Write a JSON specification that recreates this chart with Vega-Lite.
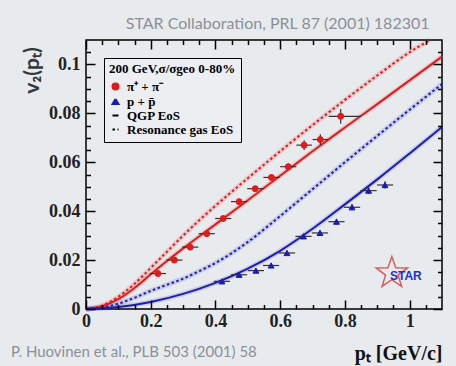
{
  "$schema": "https://vega.github.io/schema/vega-lite/v6.json",
  "autosize": {"type": "none"},
  "padding": {"left": 86, "top": 40, "right": 14, "bottom": 57},
  "width": 356,
  "height": 269,
  "background": "#e8ebee",
  "title": {"text": "P. Huovinen et al., PLB 503 (2001) 58", "orient": "bottom", "anchor": "start", "frame": "group", "dx": -75, "dy": -22, "font": "Lato", "fontSize": 15, "fontWeight": "normal", "color": "#8a9096"},
  "datasets": {
    "curves": [
      {"particle": "pi", "entry": "QGP EoS", "pt": 0, "v2": 0},
      {"particle": "pi", "entry": "QGP EoS", "pt": 0.05, "v2": 0.0011},
      {"particle": "pi", "entry": "QGP EoS", "pt": 0.1, "v2": 0.0040},
      {"particle": "pi", "entry": "QGP EoS", "pt": 0.15, "v2": 0.0086},
      {"particle": "pi", "entry": "QGP EoS", "pt": 0.2, "v2": 0.0142},
      {"particle": "pi", "entry": "QGP EoS", "pt": 0.25, "v2": 0.0196},
      {"particle": "pi", "entry": "QGP EoS", "pt": 0.3, "v2": 0.0248},
      {"particle": "pi", "entry": "QGP EoS", "pt": 0.4, "v2": 0.0346},
      {"particle": "pi", "entry": "QGP EoS", "pt": 0.5, "v2": 0.0445},
      {"particle": "pi", "entry": "QGP EoS", "pt": 0.6, "v2": 0.0545},
      {"particle": "pi", "entry": "QGP EoS", "pt": 0.7, "v2": 0.0645},
      {"particle": "pi", "entry": "QGP EoS", "pt": 0.8, "v2": 0.0742},
      {"particle": "pi", "entry": "QGP EoS", "pt": 0.9, "v2": 0.0838},
      {"particle": "pi", "entry": "QGP EoS", "pt": 1.0, "v2": 0.0935},
      {"particle": "pi", "entry": "QGP EoS", "pt": 1.1, "v2": 0.1032},
      {"particle": "pi", "entry": "Resonance gas EoS", "pt": 0, "v2": 0},
      {"particle": "pi", "entry": "Resonance gas EoS", "pt": 0.05, "v2": 0.0014},
      {"particle": "pi", "entry": "Resonance gas EoS", "pt": 0.1, "v2": 0.0050},
      {"particle": "pi", "entry": "Resonance gas EoS", "pt": 0.15, "v2": 0.0103},
      {"particle": "pi", "entry": "Resonance gas EoS", "pt": 0.2, "v2": 0.0168},
      {"particle": "pi", "entry": "Resonance gas EoS", "pt": 0.25, "v2": 0.0234},
      {"particle": "pi", "entry": "Resonance gas EoS", "pt": 0.3, "v2": 0.0300},
      {"particle": "pi", "entry": "Resonance gas EoS", "pt": 0.35, "v2": 0.0363},
      {"particle": "pi", "entry": "Resonance gas EoS", "pt": 0.4, "v2": 0.0422},
      {"particle": "pi", "entry": "Resonance gas EoS", "pt": 0.5, "v2": 0.0535},
      {"particle": "pi", "entry": "Resonance gas EoS", "pt": 0.6, "v2": 0.0645},
      {"particle": "pi", "entry": "Resonance gas EoS", "pt": 0.7, "v2": 0.0752},
      {"particle": "pi", "entry": "Resonance gas EoS", "pt": 0.8, "v2": 0.0855},
      {"particle": "pi", "entry": "Resonance gas EoS", "pt": 0.9, "v2": 0.0955},
      {"particle": "pi", "entry": "Resonance gas EoS", "pt": 1.0, "v2": 0.1050},
      {"particle": "pi", "entry": "Resonance gas EoS", "pt": 1.063, "v2": 0.1100},
      {"particle": "p", "entry": "QGP EoS", "pt": 0, "v2": 0},
      {"particle": "p", "entry": "QGP EoS", "pt": 0.1, "v2": 0.0008},
      {"particle": "p", "entry": "QGP EoS", "pt": 0.2, "v2": 0.0029},
      {"particle": "p", "entry": "QGP EoS", "pt": 0.3, "v2": 0.0062},
      {"particle": "p", "entry": "QGP EoS", "pt": 0.4, "v2": 0.0107},
      {"particle": "p", "entry": "QGP EoS", "pt": 0.5, "v2": 0.0165},
      {"particle": "p", "entry": "QGP EoS", "pt": 0.6, "v2": 0.0238},
      {"particle": "p", "entry": "QGP EoS", "pt": 0.7, "v2": 0.0328},
      {"particle": "p", "entry": "QGP EoS", "pt": 0.8, "v2": 0.0428},
      {"particle": "p", "entry": "QGP EoS", "pt": 0.9, "v2": 0.0530},
      {"particle": "p", "entry": "QGP EoS", "pt": 1.0, "v2": 0.0636},
      {"particle": "p", "entry": "QGP EoS", "pt": 1.1, "v2": 0.0744},
      {"particle": "p", "entry": "Resonance gas EoS", "pt": 0, "v2": 0},
      {"particle": "p", "entry": "Resonance gas EoS", "pt": 0.05, "v2": 0.0006},
      {"particle": "p", "entry": "Resonance gas EoS", "pt": 0.1, "v2": 0.0022},
      {"particle": "p", "entry": "Resonance gas EoS", "pt": 0.15, "v2": 0.0046},
      {"particle": "p", "entry": "Resonance gas EoS", "pt": 0.2, "v2": 0.0074},
      {"particle": "p", "entry": "Resonance gas EoS", "pt": 0.25, "v2": 0.0099},
      {"particle": "p", "entry": "Resonance gas EoS", "pt": 0.3, "v2": 0.0124},
      {"particle": "p", "entry": "Resonance gas EoS", "pt": 0.35, "v2": 0.0155},
      {"particle": "p", "entry": "Resonance gas EoS", "pt": 0.4, "v2": 0.0188},
      {"particle": "p", "entry": "Resonance gas EoS", "pt": 0.5, "v2": 0.0274},
      {"particle": "p", "entry": "Resonance gas EoS", "pt": 0.6, "v2": 0.0380},
      {"particle": "p", "entry": "Resonance gas EoS", "pt": 0.7, "v2": 0.0490},
      {"particle": "p", "entry": "Resonance gas EoS", "pt": 0.8, "v2": 0.0600},
      {"particle": "p", "entry": "Resonance gas EoS", "pt": 0.9, "v2": 0.0708},
      {"particle": "p", "entry": "Resonance gas EoS", "pt": 1.0, "v2": 0.0815},
      {"particle": "p", "entry": "Resonance gas EoS", "pt": 1.1, "v2": 0.0920}
    ],
    "points": [
      {"entry": "π⁺ + π⁻", "pt": 0.222, "v2": 0.0145, "ptlo": 0.197, "pthi": 0.247, "v2lo": 0.0137, "v2hi": 0.0153},
      {"entry": "π⁺ + π⁻", "pt": 0.273, "v2": 0.0200, "ptlo": 0.248, "pthi": 0.298, "v2lo": 0.0192, "v2hi": 0.0208},
      {"entry": "π⁺ + π⁻", "pt": 0.322, "v2": 0.0253, "ptlo": 0.297, "pthi": 0.347, "v2lo": 0.0245, "v2hi": 0.0261},
      {"entry": "π⁺ + π⁻", "pt": 0.373, "v2": 0.0308, "ptlo": 0.348, "pthi": 0.398, "v2lo": 0.0300, "v2hi": 0.0316},
      {"entry": "π⁺ + π⁻", "pt": 0.424, "v2": 0.0370, "ptlo": 0.399, "pthi": 0.449, "v2lo": 0.0361, "v2hi": 0.0379},
      {"entry": "π⁺ + π⁻", "pt": 0.473, "v2": 0.0439, "ptlo": 0.448, "pthi": 0.498, "v2lo": 0.0430, "v2hi": 0.0448},
      {"entry": "π⁺ + π⁻", "pt": 0.523, "v2": 0.0492, "ptlo": 0.498, "pthi": 0.548, "v2lo": 0.0482, "v2hi": 0.0502},
      {"entry": "π⁺ + π⁻", "pt": 0.573, "v2": 0.0538, "ptlo": 0.548, "pthi": 0.598, "v2lo": 0.0527, "v2hi": 0.0549},
      {"entry": "π⁺ + π⁻", "pt": 0.625, "v2": 0.0582, "ptlo": 0.600, "pthi": 0.650, "v2lo": 0.0570, "v2hi": 0.0594},
      {"entry": "π⁺ + π⁻", "pt": 0.674, "v2": 0.0670, "ptlo": 0.650, "pthi": 0.698, "v2lo": 0.0650, "v2hi": 0.0690},
      {"entry": "π⁺ + π⁻", "pt": 0.724, "v2": 0.0693, "ptlo": 0.700, "pthi": 0.748, "v2lo": 0.0671, "v2hi": 0.0715},
      {"entry": "π⁺ + π⁻", "pt": 0.787, "v2": 0.0788, "ptlo": 0.750, "pthi": 0.850, "v2lo": 0.0758, "v2hi": 0.0818},
      {"entry": "p + p̄", "pt": 0.420, "v2": 0.0113, "ptlo": 0.395, "pthi": 0.445, "v2lo": 0.0105, "v2hi": 0.0121},
      {"entry": "p + p̄", "pt": 0.473, "v2": 0.0140, "ptlo": 0.448, "pthi": 0.498, "v2lo": 0.0132, "v2hi": 0.0148},
      {"entry": "p + p̄", "pt": 0.525, "v2": 0.0157, "ptlo": 0.500, "pthi": 0.550, "v2lo": 0.0148, "v2hi": 0.0166},
      {"entry": "p + p̄", "pt": 0.572, "v2": 0.0178, "ptlo": 0.547, "pthi": 0.597, "v2lo": 0.0169, "v2hi": 0.0187},
      {"entry": "p + p̄", "pt": 0.621, "v2": 0.0229, "ptlo": 0.596, "pthi": 0.646, "v2lo": 0.0219, "v2hi": 0.0239},
      {"entry": "p + p̄", "pt": 0.672, "v2": 0.0297, "ptlo": 0.647, "pthi": 0.697, "v2lo": 0.0286, "v2hi": 0.0308},
      {"entry": "p + p̄", "pt": 0.723, "v2": 0.0311, "ptlo": 0.698, "pthi": 0.748, "v2lo": 0.0300, "v2hi": 0.0322},
      {"entry": "p + p̄", "pt": 0.774, "v2": 0.0357, "ptlo": 0.749, "pthi": 0.799, "v2lo": 0.0345, "v2hi": 0.0369},
      {"entry": "p + p̄", "pt": 0.822, "v2": 0.0416, "ptlo": 0.797, "pthi": 0.847, "v2lo": 0.0403, "v2hi": 0.0429},
      {"entry": "p + p̄", "pt": 0.873, "v2": 0.0484, "ptlo": 0.848, "pthi": 0.898, "v2lo": 0.0470, "v2hi": 0.0498},
      {"entry": "p + p̄", "pt": 0.924, "v2": 0.0507, "ptlo": 0.899, "pthi": 0.949, "v2lo": 0.0492, "v2hi": 0.0522}
    ],
    "logo": [
      {"pt": 0.945, "v2": 0.0147, "label": "STAR"}
    ]
  },
  "layer": [
    {
      "data": {"name": "curves"},
      "mark": {"type": "line", "strokeWidth": 5, "opacity": 0.15, "interpolate": "monotone"},
      "encoding": {
        "x": {"field": "pt", "type": "quantitative", "scale": {"domain": [0, 1.1], "nice": false, "zero": false},
          "axis": {
            "orient": "bottom", "offset": -9, "zindex": 2,
            "values": [0, 0.2, 0.4, 0.6, 0.8, 1.0],
            "format": "~g",
            "tickSize": 9,
            "labelPadding": 3,
            "labelFont": "Liberation Serif", "labelFontWeight": "bold", "labelFontSize": 18, "labelColor": "#222222",
            "labelFlush": false, "labelOverlap": false,
            "domain": false, "grid": false, "ticks": true, "tickColor": "#000000", "tickWidth": 1.5, "tickOpacity": 1, "tickCap": "butt",
            "title": "pₜ [GeV/c]", "titleFont": "Liberation Serif", "titleFontSize": 20, "titleFontWeight": "bold",
            "titleColor": "#111111", "titleX": 356, "titleY": 59, "titleAlign": "right", "titleBaseline": "alphabetic"
          }},
        "y": {"field": "v2", "type": "quantitative", "scale": {"domain": [0, 0.11], "nice": false, "zero": false},
          "axis": {
            "orient": "left", "offset": 0, "zindex": 2,
            "values": [0, 0.02, 0.04, 0.06, 0.08, 0.1],
            "format": "~g",
            "tickSize": -9,
            "labelPadding": 15,
            "labelFont": "Liberation Serif", "labelFontWeight": "bold", "labelFontSize": 18, "labelColor": "#222222",
            "labelFlush": false, "labelOverlap": false,
            "domain": false, "grid": false, "ticks": true, "tickColor": "#000000", "tickWidth": 1.5, "tickOpacity": 1, "tickCap": "butt",
            "title": "v₂(pₜ)", "titleFont": "Lato", "titleFontSize": 21, "titleFontWeight": "bold",
            "titleColor": "#33383d", "titleX": -48, "titleY": 30, "titleAlign": "center", "titleBaseline": "alphabetic", "titleAngle": -90
          }},
        "stroke": {"field": "particle", "type": "nominal", "scale": {"domain": ["pi", "p"], "range": ["#e01b1b", "#1c1cb0"]}, "legend": null},
        "detail": {"field": "entry", "type": "nominal"}
      }
    },
    {
      "data": {"name": "curves"},
      "mark": {"type": "line", "strokeWidth": 2, "interpolate": "monotone"},
      "encoding": {
        "x": {"field": "pt", "type": "quantitative",
          "axis": {
            "orient": "bottom", "offset": 0, "zindex": 2,
            "values": [0.05, 0.1, 0.15, 0.25, 0.3, 0.35, 0.45, 0.5, 0.55, 0.65, 0.7, 0.75, 0.85, 0.9, 0.95, 1.05],
            "labels": false, "tickSize": -4.5, "domain": false, "grid": false, "ticks": true, "tickColor": "#000000", "tickWidth": 1.5, "tickOpacity": 1, "title": null
          }},
        "y": {"field": "v2", "type": "quantitative",
          "axis": {
            "orient": "left", "offset": -4.5, "zindex": 2,
            "values": [0.005, 0.01, 0.015, 0.025, 0.03, 0.035, 0.045, 0.05, 0.055, 0.065, 0.07, 0.075, 0.085, 0.09, 0.095, 0.105],
            "labels": false, "tickSize": 4.5, "domain": false, "grid": false, "ticks": true, "tickColor": "#000000", "tickWidth": 1.5, "tickOpacity": 1, "title": null
          }},
        "stroke": {"field": "particle", "type": "nominal", "legend": null},
        "strokeDash": {"field": "entry", "type": "nominal",
          "scale": {"domain": ["π⁺ + π⁻", "p + p̄", "QGP EoS", "Resonance gas EoS"], "range": [[1000, 1], [1000, 1], [1000, 1], [2.5, 2.5]]}}
      }
    },
    {
      "data": {"name": "points"},
      "mark": {"type": "rule", "color": "#333333", "strokeWidth": 1.2},
      "encoding": {
        "x": {"field": "ptlo", "type": "quantitative",
          "axis": {
            "orient": "top", "offset": -9, "zindex": 2,
            "values": [0, 0.2, 0.4, 0.6, 0.8, 1.0],
            "labels": false, "tickSize": 9, "domain": false, "grid": false, "ticks": true, "tickColor": "#000000", "tickWidth": 1.5, "tickOpacity": 1,
            "title": "STAR Collaboration, PRL 87 (2001) 182301", "titleFont": "Lato", "titleFontSize": 16, "titleFontWeight": "normal",
            "titleColor": "#8a9096", "titleX": 343, "titleY": -21, "titleAlign": "right", "titleBaseline": "alphabetic"
          }},
        "x2": {"field": "pthi"},
        "y": {"field": "v2", "type": "quantitative",
          "axis": {
            "orient": "right", "offset": 0, "zindex": 2,
            "values": [0, 0.02, 0.04, 0.06, 0.08, 0.1],
            "labels": false, "tickSize": -9, "domain": false, "grid": false, "ticks": true, "tickColor": "#000000", "tickWidth": 1.5, "tickOpacity": 1, "title": null
          }}
      }
    },
    {
      "data": {"name": "points"},
      "mark": {"type": "rule", "color": "#333333", "strokeWidth": 1.2},
      "encoding": {
        "x": {"field": "pt", "type": "quantitative",
          "axis": {
            "orient": "top", "offset": 0, "zindex": 2,
            "values": [0.05, 0.1, 0.15, 0.25, 0.3, 0.35, 0.45, 0.5, 0.55, 0.65, 0.7, 0.75, 0.85, 0.9, 0.95, 1.05],
            "labels": false, "tickSize": -4.5, "domain": false, "grid": false, "ticks": true, "tickColor": "#000000", "tickWidth": 1.5, "tickOpacity": 1, "title": null
          }},
        "y": {"field": "v2lo", "type": "quantitative",
          "axis": {
            "orient": "right", "offset": -4.5, "zindex": 2,
            "values": [0.005, 0.01, 0.015, 0.025, 0.03, 0.035, 0.045, 0.05, 0.055, 0.065, 0.07, 0.075, 0.085, 0.09, 0.095, 0.105],
            "labels": false, "tickSize": 4.5, "domain": false, "grid": false, "ticks": true, "tickColor": "#000000", "tickWidth": 1.5, "tickOpacity": 1, "title": null
          }},
        "y2": {"field": "v2hi"}
      }
    },
    {
      "data": {"name": "points"},
      "mark": {"type": "point", "filled": false, "opacity": 1, "strokeWidth": 1},
      "encoding": {
        "x": {"field": "pt", "type": "quantitative", "axis": null},
        "y": {"field": "v2", "type": "quantitative", "axis": null},
        "color": {"field": "entry", "type": "nominal",
          "scale": {"domain": ["π⁺ + π⁻", "p + p̄", "QGP EoS", "Resonance gas EoS"], "range": ["#e01b1b", "#1c1cb0", "black", "black"]},
          "legend": {
            "orient": "top-left", "offset": 18,
            "title": "200 GeV,σ/σgeo 0-80%",
            "titleFont": "Liberation Serif", "titleFontSize": 13, "titleFontWeight": "bold", "titleColor": "black", "titlePadding": 4,
            "labelFont": "Liberation Serif", "labelFontSize": 13, "labelFontWeight": "bold", "labelColor": "black",
            "rowPadding": 0, "labelOffset": 5, "symbolStrokeWidth": 2, "symbolOpacity": 1,
            "strokeColor": "black", "padding": 5, "fillColor": "#eceef1"
          }},
        "fill": {"field": "entry", "type": "nominal",
          "scale": {"domain": ["π⁺ + π⁻", "p + p̄", "QGP EoS", "Resonance gas EoS"], "range": ["#e01b1b", "#1c1cb0", "black", "black"]}},
        "shape": {"field": "entry", "type": "nominal",
          "scale": {"domain": ["π⁺ + π⁻", "p + p̄", "QGP EoS", "Resonance gas EoS"], "range": ["circle", "triangle-up", "stroke", "stroke"]}},
        "size": {"field": "entry", "type": "ordinal",
          "scale": {"domain": ["π⁺ + π⁻", "p + p̄", "QGP EoS", "Resonance gas EoS"], "range": [36, 36, 289, 289]}}
      }
    },
    {
      "data": {"name": "logo"},
      "mark": {"type": "point", "shape": "M0,-1L0.235,-0.324L0.951,-0.309L0.38,0.124L0.588,0.809L0,0.4L-0.588,0.809L-0.38,0.124L-0.951,-0.309L-0.235,-0.324Z", "size": 1100, "filled": false, "stroke": "#d42020", "strokeWidth": 1.5},
      "encoding": {
        "x": {"field": "pt", "type": "quantitative", "axis": null},
        "y": {"field": "v2", "type": "quantitative", "axis": null}
      }
    },
    {
      "data": {"name": "logo"},
      "mark": {"type": "text", "font": "Liberation Sans", "fontWeight": "bold", "fontSize": 12, "color": "#2030d0", "dx": 14, "dy": 3},
      "encoding": {
        "x": {"field": "pt", "type": "quantitative", "axis": null},
        "y": {"field": "v2", "type": "quantitative", "axis": null},
        "text": {"field": "label"}
      }
    }
  ],
  "resolve": {"axis": {"x": "independent", "y": "independent"}},
  "config": {
    "view": {"stroke": "black", "strokeWidth": 1.5}
  }
}
